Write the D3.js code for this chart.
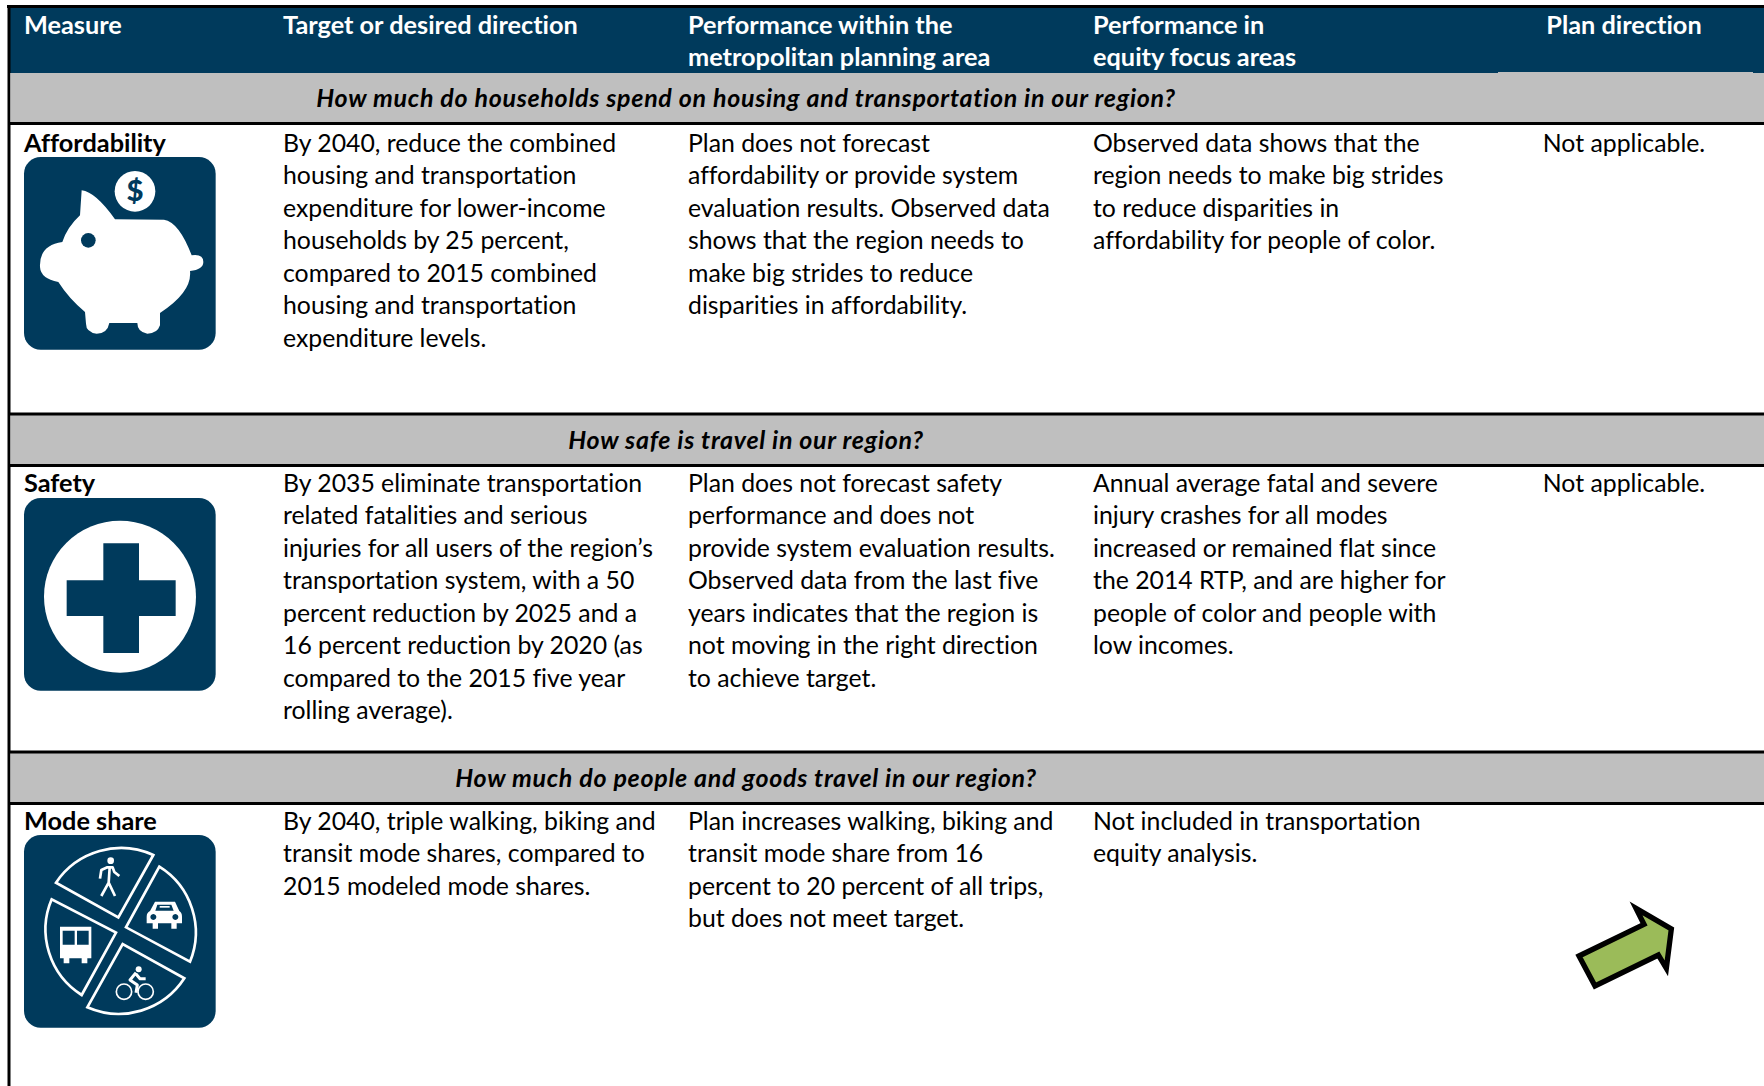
<!DOCTYPE html>
<html lang="en">
<head>
<meta charset="utf-8">
<title>Performance measures</title>
<script src="https://d3js.org/d3.v7.min.js"></script>
<style>
html, body { margin: 0; padding: 0; background: #fff; overflow: hidden; }
svg { display: block; }
text { font-family: Lato, "Open Sans", sans-serif; font-variant-ligatures: none; }
</style>
</head>
<body>
<script>
var W = 1764, H = 1086;

// table content
var columns = ["measure", "target", "mpa", "equity", "plan"];
var headerLabels = [
  ["Measure"],
  ["Target or desired direction"],
  ["Performance within the", "metropolitan planning area"],
  ["Performance in", "equity focus areas"],
  ["Plan direction"]
];
var questions = [
  "How much do households spend on housing and transportation in our region?",
  "How safe is travel in our region?",
  "How much do people and goods travel in our region?"
];
var measures = ["Affordability", "Safety", "Mode share"];
var targets = [
  ["By 2040, reduce the combined", "housing and transportation", "expenditure for lower-income", "households by 25 percent,", "compared to 2015 combined", "housing and transportation", "expenditure levels."],
  ["By 2035 eliminate transportation", "related fatalities and serious", "injuries for all users of the region’s", "transportation system, with a 50", "percent reduction by 2025 and a", "16 percent reduction by 2020 (as", "compared to the 2015 five year", "rolling average)."],
  ["By 2040, triple walking, biking and", "transit mode shares, compared to", "2015 modeled mode shares."]
];
var mpaText = [
  ["Plan does not forecast", "affordability or provide system", "evaluation results. Observed data", "shows that the region needs to", "make big strides to reduce", "disparities in affordability."],
  ["Plan does not forecast safety", "performance and does not", "provide system evaluation results.", "Observed data from the last five", "years indicates that the region is", "not moving in the right direction", "to achieve target."],
  ["Plan increases walking, biking and", "transit mode share from 16", "percent to 20 percent of all trips,", "but does not meet target."]
];
var equityText = [
  ["Observed data shows that the", "region needs to make big strides", "to reduce disparities in", "affordability for people of color."],
  ["Annual average fatal and severe", "injury crashes for all modes", "increased or remained flat since", "the 2014 RTP, and are higher for", "people of color and people with", "low incomes."],
  ["Not included in transportation", "equity analysis."]
];
var planText = [["Not applicable."], ["Not applicable."], []];

var navy = "#003a5c", grey = "#bfbfbf";
var fontSize = 24.8;
var boldSize = 25.3;
var lineH = 32.5;

var colX = d3.scaleOrdinal().domain(columns).range([24, 283, 688, 1093, 1624]);
var bandTop = d3.scaleOrdinal().domain(questions).range([73, 415, 753]);
var bandH = 49;
var textY = d3.scaleOrdinal().domain(measures).range([151.5, 491.5, 829.5]);
var iconY = d3.scaleOrdinal().domain(measures).range([157, 498, 835]);

var svg = d3.select("body").append("svg").attr("width", W).attr("height", H);
svg.append("rect").attr("width", W).attr("height", H).attr("fill", "#fff");

// header
svg.append("rect").attr("x", 9).attr("y", 7).attr("width", W).attr("height", 66).attr("fill", navy);
svg.append("rect").attr("x", 7).attr("y", 5).attr("width", W).attr("height", 3).attr("fill", "#000");
svg.append("rect").attr("x", 7.5).attr("y", 5).attr("width", 3).attr("height", H).attr("fill", "#000");

function lines(g, arr, x, y, opt) {
  opt = opt || {};
  g.selectAll(null).data(arr).enter().append("text")
    .attr("x", x)
    .attr("y", function(d, i) { return y + i * lineH; })
    .attr("text-anchor", opt.anchor || "start")
    .attr("font-size", opt.size || fontSize)
    .attr("font-weight", opt.weight || 400)
    .attr("font-style", opt.style || "normal")
    .attr("letter-spacing", opt.spacing || 0)
    .attr("fill", opt.fill || "#000")
    .text(function(d) { return d; });
}

columns.forEach(function(c, i) {
  lines(svg, headerLabels[i], colX(c), 33.5, {
    fill: "#fff", weight: 700, size: boldSize, anchor: c == "plan" ? "middle" : "start"
  });
});

// question bands
questions.forEach(function(q) {
  var t = bandTop(q);
  svg.append("rect").attr("x", 10.5).attr("y", t).attr("width", W).attr("height", bandH).attr("fill", grey);
  if (t > 100) svg.append("rect").attr("x", 8).attr("y", t - 2.5).attr("width", W).attr("height", 3).attr("fill", "#000");
  svg.append("rect").attr("x", 8).attr("y", t + bandH).attr("width", W).attr("height", 3).attr("fill", "#000");
  lines(svg, [q], 746, t + 34, { weight: 700, style: "italic", size: 25, spacing: 0.7, anchor: "middle" });
});
svg.append("rect").attr("x", 1498).attr("y", 72).attr("width", 255).attr("height", 1.5).attr("fill", grey);

// rows
measures.forEach(function(m, i) {
  var y = textY(m);
  lines(svg, [m], colX("measure"), y, { weight: 700, size: boldSize });
  lines(svg, targets[i], colX("target"), y);
  lines(svg, mpaText[i], colX("mpa"), y);
  lines(svg, equityText[i], colX("equity"), y);
  lines(svg, planText[i], colX("plan"), y, { anchor: "middle" });
  drawIcon(m, 24, iconY(m));
});

// icons are drawn in a 575 unit box, three units to a pixel
function drawIcon(m, x, y) {
  var g = svg.append("g").attr("transform", "translate(" + x + "," + y + ") scale(" + (1 / 3) + ")");
  g.append("rect").attr("width", 575).attr("height", 578).attr("rx", 50).attr("fill", navy);
  if (m == "Affordability") piggy(g);
  if (m == "Safety") cross(g);
  if (m == "Mode share") pie(g);
}

function piggy(g) {
  g.append("path").attr("fill", "#fff").attr("d",
    "M173,100 Q215,105 273,187 L420,188 Q465,195 503,295 " +
    "Q538,290 538,315 Q538,338 498,342 Q505,405 408,468 L408,505 " +
    "Q400,530 370,530 Q340,525 340,498 L256,498 Q250,530 218,530 Q186,525 186,500 L183,465 " +
    "Q135,425 103,375 Q50,365 48,330 Q45,265 115,255 Q130,210 168,175 Z");
  g.append("circle").attr("cx", 193).attr("cy", 250).attr("r", 22).attr("fill", navy);
  g.append("circle").attr("cx", 333).attr("cy", 103).attr("r", 61).attr("fill", "#fff");
  g.append("text").attr("x", 333).attr("y", 133).attr("text-anchor", "middle")
    .attr("font-size", 88).attr("font-weight", 900).attr("fill", navy).text("$");
}

function cross(g) {
  g.append("circle").attr("cx", 288).attr("cy", 296).attr("r", 228).attr("fill", "#fff");
  g.append("path").attr("fill", navy).attr("d",
    "M238,136 H345 V247 H455 V354 H345 V465 H238 V354 H128 V247 H238 Z");
}

function pie(g) {
  var inner = g.append("g").attr("transform", "translate(-72,-75)");
  var wedges = [
    "M168,218 A235,235 0 0 1 460,135 L355,322 Z",
    "M478,170 A232,232 0 0 1 570,455 L378,352 Z",
    "M553,505 A235,235 0 0 1 262,592 L368,402 Z",
    "M245,555 A232,232 0 0 1 155,268 L348,368 Z"
  ];
  inner.selectAll(null).data(wedges).enter().append("path")
    .attr("d", function(d) { return d; })
    .attr("fill", "none").attr("stroke", "#fff").attr("stroke-width", 8).attr("stroke-linejoin", "miter");

  // walker
  inner.append("circle").attr("cx", 332).attr("cy", 152).attr("r", 10).attr("fill", "#fff");
  inner.append("path").attr("fill", "none").attr("stroke", "#fff").attr("stroke-width", 8).attr("stroke-linejoin", "round")
    .attr("d", "M300,206 L304,180 L322,172 L338,172 L343,186 L358,198 M329,172 L326,218 L304,258 M326,218 L345,258");

  // car
  inner.append("path").attr("fill", "#fff").attr("fill-rule", "evenodd").attr("d",
    "M465,275 L525,275 L538,303 Q546,308 546,320 L546,340 L530,340 L530,356 L514,356 L514,340 L474,340 L474,356 L458,356 L458,340 L440,340 L440,320 Q440,308 450,303 Z " +
    "M472,284 L466,302 L521,302 L514,284 Z M460,312 a9,9 0 1 0 0.1,0 Z M526,312 a9,9 0 1 0 0.1,0 Z");
  inner.append("path").attr("fill", "#fff").attr("d", "M479,288 h30 v5 h-30 Z");

  // bus
  inner.append("path").attr("fill", "#fff").attr("fill-rule", "evenodd").attr("d",
    "M180,350 H274 V445 H262 V460 H245 V445 H208 V460 H191 V445 H180 Z " +
    "M188,362 V404 H224 V362 Z M231,362 V404 H266 V362 Z");

  // bicycle
  inner.append("circle").attr("cx", 372).attr("cy", 545).attr("r", 23).attr("fill", "none").attr("stroke", "#fff").attr("stroke-width", 5);
  inner.append("circle").attr("cx", 437).attr("cy", 545).attr("r", 23).attr("fill", "none").attr("stroke", "#fff").attr("stroke-width", 5);
  inner.append("circle").attr("cx", 416).attr("cy", 478).attr("r", 9).attr("fill", "#fff");
  inner.append("path").attr("fill", "none").attr("stroke", "#fff").attr("stroke-width", 9).attr("stroke-linejoin", "round")
    .attr("d", "M408,488 L390,510 L412,525 L408,548 M408,492 L420,506 L437,506");
}

// plan direction arrow
var arrowPts = [[87, 228], [282, 133], [258, 85], [364, 147], [349, 265], [325, 225], [135, 318]];
svg.append("g").attr("transform", "translate(1550,880) scale(" + (1 / 3) + ")")
  .append("path")
  .attr("d", d3.line()(arrowPts) + "Z")
  .attr("fill", "#9bbb59").attr("stroke", "#000").attr("stroke-width", 16).attr("stroke-linejoin", "miter");
</script>
</body>
</html>
